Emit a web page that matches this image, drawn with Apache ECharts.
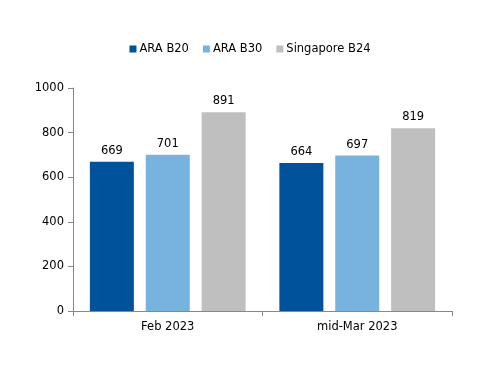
<!DOCTYPE html>
<html><head><meta charset="utf-8">
<script src="https://cdn.jsdelivr.net/npm/echarts@6/dist/echarts.min.js"></script>
<style>html,body{margin:0;padding:0;background:#fff}#c{width:500px;height:386px}</style>
</head><body><div id="c"></div>
<script>
const categories = ['Feb 2023', 'mid-Mar 2023'];
const seriesNames = ['ARA B20', 'ARA B30', 'Singapore B24'];
const araB20 = [669, 664];
const araB30 = [701, 697];
const singB24 = [891, 819];
const yTicks = [0, 200, 400, 600, 800, 1000];
const colors = ['#00529B', '#78B2DF', '#BFBFBF'];
const font = 'DejaVu Sans';
const fs = 11.5;
const chart = echarts.init(document.getElementById('c'));
const mk = (name, data, i) => ({
  name, type: 'bar', data, barWidth: 44, barGap: '27%',
  itemStyle: {color: colors[i]},
  label: {show: true, position: 'top', color: '#000', fontFamily: font, fontSize: fs, distance: 5}
});
chart.setOption({
  animation: false,
  textStyle: {fontFamily: font},
  legend: {
    top: 38, left: 'center', itemWidth: 7, itemHeight: 7, itemGap: 14,
    icon: 'rect', textStyle: {fontFamily: font, fontSize: fs, color: '#000', padding: [0, 0, 0, -2]},
    data: seriesNames
  },
  grid: {left: 73, right: 48, top: 88, bottom: 75},
  xAxis: {
    type: 'category', data: categories,
    axisLine: {lineStyle: {color: '#888'}},
    axisTick: {show: true, length: 5, lineStyle: {color: '#888'}},
    axisLabel: {color: '#000', fontFamily: font, fontSize: fs, margin: 10}
  },
  yAxis: {
    type: 'value', min: yTicks[0], max: yTicks[yTicks.length-1], interval: 200,
    axisLine: {show: true, lineStyle: {color: '#888'}},
    axisTick: {show: true, length: 5, lineStyle: {color: '#888'}},
    splitLine: {show: false},
    axisLabel: {color: '#000', fontFamily: font, fontSize: fs, margin: 9, formatter: v => String(v)}
  },
  series: [mk(seriesNames[0], araB20, 0), mk(seriesNames[1], araB30, 1), mk(seriesNames[2], singB24, 2)]
});
</script></body></html>
